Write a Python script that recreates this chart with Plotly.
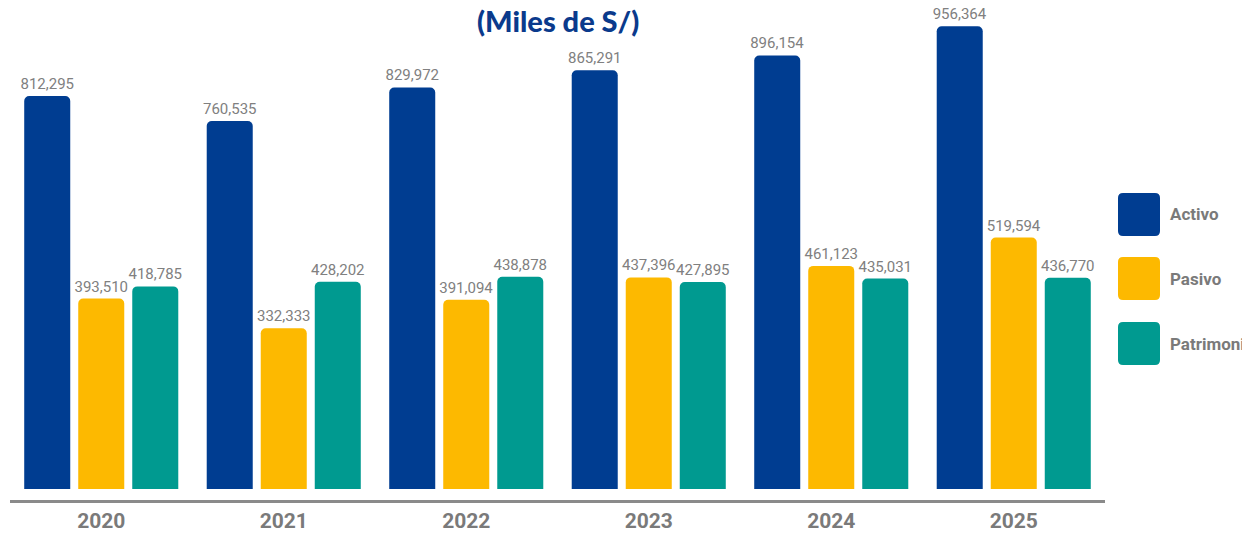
import plotly.graph_objects as go

years = ["2020", "2021", "2022", "2023", "2024", "2025"]
activo = [812295, 760535, 829972, 865291, 896154, 956364]
pasivo = [393510, 332333, 391094, 437396, 461123, 519594]
patrimonio = [418785, 428202, 438878, 427895, 435031, 436770]

series = [
    ("Activo", activo, "#003D91"),
    ("Pasivo", pasivo, "#FDB900"),
    ("Patrimonio", patrimonio, "#009A90"),
]

# page has an 8px body margin, so the figure is sized to fit inside it
PLOT_W = 1095
PLOT_H = 492


def rounded_rect(x0, y0, x1, y1, r_px=5):
    rx, ry = r_px / PLOT_W, r_px / PLOT_H
    return (f"M {x0 + rx},{y0} L {x1 - rx},{y0} Q {x1},{y0} {x1},{y0 + ry} "
            f"L {x1},{y1 - ry} Q {x1},{y1} {x1 - rx},{y1} "
            f"L {x0 + rx},{y1} Q {x0},{y1} {x0},{y1 - ry} "
            f"L {x0},{y0 + ry} Q {x0},{y0} {x0 + rx},{y0} Z")


fig = go.Figure()
for name, values, color in series:
    fig.add_trace(go.Bar(
        x=years,
        y=values,
        name=name,
        marker=dict(color=color, cornerradius=5, line=dict(width=0)),
        texttemplate="%{y:,}",
        textposition="outside",
        constraintext="none",
        textfont=dict(family="Roboto", size=15, color="#808080"),
        cliponaxis=False,
        showlegend=False,
    ))

# custom legend with large rounded squares
legend_top = [193, 257, 322]
for (name, _, color), top in zip(series, legend_top):
    x0, x1 = (1118 - 10) / PLOT_W, (1160 - 10) / PLOT_W
    y1, y0 = (500 - top) / PLOT_H, (500 - top - 43) / PLOT_H
    fig.add_shape(type="path", xref="paper", yref="paper",
                  path=rounded_rect(x0, y0, x1, y1),
                  fillcolor=color, line=dict(width=0))
    fig.add_annotation(text=name, xref="paper", yref="paper",
                       x=(1168 - 10) / PLOT_W, y=(y0 + y1) / 2,
                       xanchor="left", yanchor="middle", showarrow=False,
                       font=dict(family="Roboto", size=17, color="#7a7a7a", weight="bold"))

fig.add_annotation(text="(Miles de S/)", xref="paper", yref="paper",
                   x=0.5, y=(500 - 21) / PLOT_H, xanchor="center", yanchor="middle",
                   showarrow=False,
                   font=dict(family="Lato", size=29, color="#0A3A8C", weight=900))

fig.update_layout(
    width=1242, height=526,
    margin=dict(l=2, r=145, t=0, b=34),
    paper_bgcolor="white",
    plot_bgcolor="white",
    barmode="group",
    bargap=0.112,
    bargroupgap=0.148,
    xaxis=dict(
        showline=True, linecolor="#8a8a8a", linewidth=3,
        showgrid=False, ticks="",
        tickfont=dict(family="Roboto", size=21, color="#7a7a7a", weight="bold"),
    ),
    yaxis=dict(visible=False, range=[-22736, 994200]),
)

fig.write_html("out.html")
